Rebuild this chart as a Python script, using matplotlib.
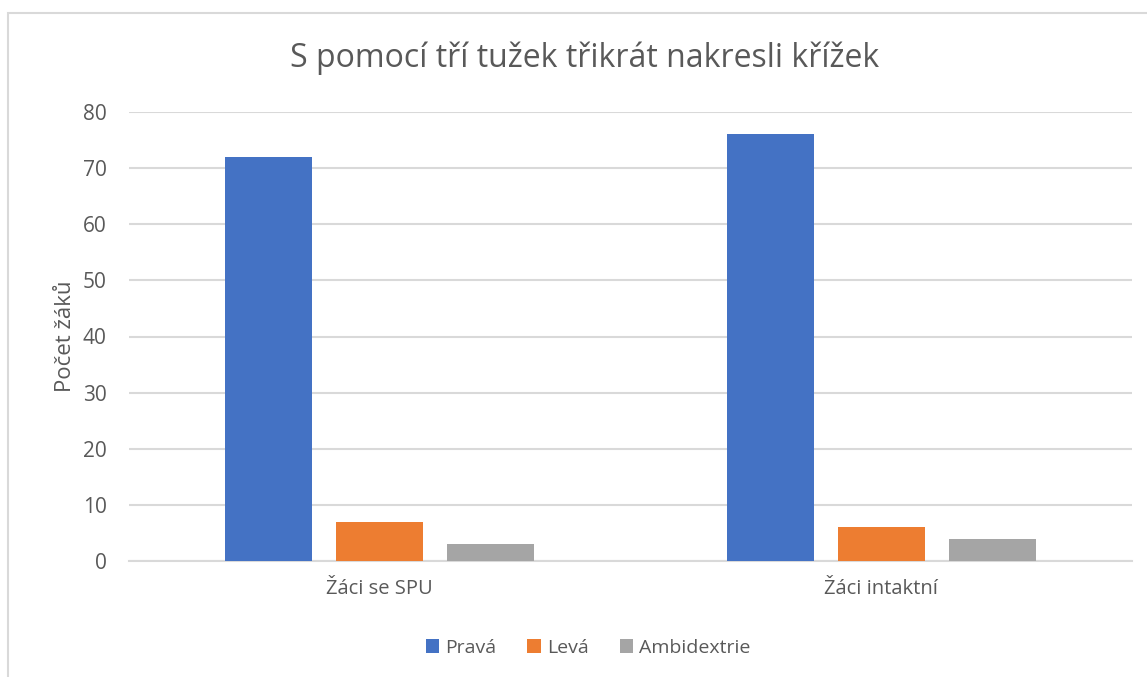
import matplotlib
matplotlib.use("Agg")
import matplotlib.pyplot as plt
from matplotlib.patches import Rectangle
import numpy as np

categories = ["Žáci se SPU", "Žáci intaktní"]
series_names = ["Pravá", "Levá", "Ambidextrie"]
prava = [72, 76]
leva = [7, 6]
ambi = [3, 4]
colors = ["#4472C4", "#ED7D31", "#A5A5A5"]
title = "S pomocí tří tužek třikrát nakresli křížek"
ylabel = "Počet žáků"
yticks = [0, 10, 20, 30, 40, 50, 60, 70, 80]

plt.rcParams['font.family'] = ['Open Sans', 'DejaVu Sans']
txt = "#595959"

W, H = 1147, 677
fig = plt.figure(figsize=(W / 100, H / 100), dpi=100)
fig.patch.set_facecolor("white")

# chart frame
fig.patches.append(Rectangle((8 / W, -0.05), (1162 - 8) / W, (H - 13) / H + 0.05,
                             transform=fig.transFigure, fill=False,
                             edgecolor="#D9D9D9", linewidth=1.5))

left, right = 129 / W, 1132 / W
bottom, top = (H - 561) / H, (H - 112) / H
ax = fig.add_axes([left, bottom, right - left, top - bottom])

x = np.arange(len(categories))
step = 111 / 501
width = 87 / 501
for i, (vals, name) in enumerate(zip([prava, leva, ambi], series_names)):
    ax.bar(x + (i - 1) * step, vals, width, color=colors[i], label=name, zorder=3)

ax.set_xlim(-0.5, 1.5)
ax.set_ylim(0, 80)
ax.set_yticks(yticks)
ax.yaxis.grid(True, color="#D9D9D9", linewidth=1.5, zorder=0)
ax.set_axisbelow(True)
for s in ["top", "right", "left"]:
    ax.spines[s].set_visible(False)
ax.spines["bottom"].set_color("#D9D9D9")
ax.spines["bottom"].set_linewidth(1.5)
ax.tick_params(axis="both", length=0, colors=txt)
ax.tick_params(axis="y", pad=16, labelsize=15)
ax.tick_params(axis="x", pad=13, labelsize=14.5)
ax.set_xticks(x)
ax.set_xticklabels(categories)
ax.set_ylabel(ylabel, fontsize=16, color=txt, labelpad=5)

fig.text(585 / W, 1 - 58 / H, title, ha="center", va="center", fontsize=23, color=txt)

leg = fig.legend(loc="center", bbox_to_anchor=(588 / W, 1 - 648 / H), ncol=3,
                 frameon=False, fontsize=14, handlelength=0.7, handleheight=0.7,
                 handletextpad=0.3, columnspacing=1.6)
for t in leg.get_texts():
    t.set_color(txt)

fig.savefig("out.png", dpi=100)
